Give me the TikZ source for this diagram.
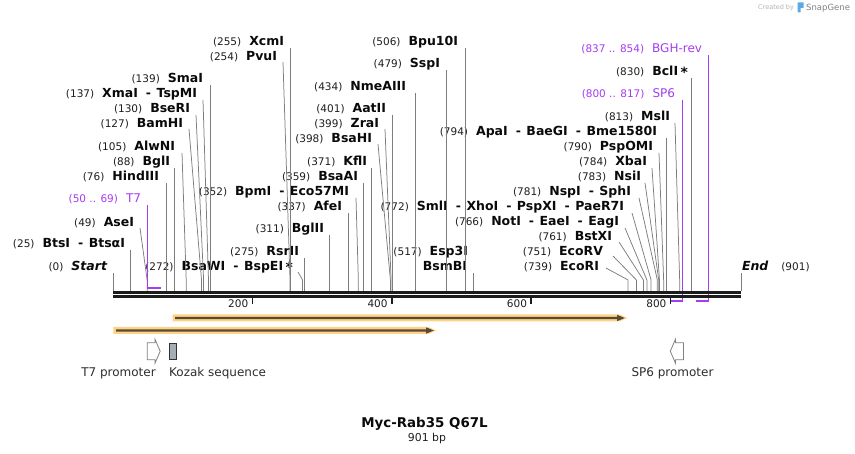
\documentclass[tikz,border=0pt]{standalone}
\usepackage{fontspec}
\setmainfont{DejaVu Sans}
\usetikzlibrary{calc}
\definecolor{enzc}{RGB}{125,125,125}
\definecolor{txt}{RGB}{10,10,10}
\definecolor{numc}{RGB}{30,30,30}
\definecolor{prim}{RGB}{165,60,240}
\definecolor{bb}{RGB}{28,28,28}
\definecolor{glow}{RGB}{253,212,135}
\definecolor{arr}{RGB}{88,74,54}
\definecolor{kozak}{RGB}{168,173,178}
\definecolor{ftxt}{RGB}{45,45,45}
\definecolor{logoblue}{RGB}{90,170,230}
\newcommand{\nf}[1]{{\fontsize{10.5}{12}\selectfont\color{numc}(#1)}}
\newcommand{\pnf}[1]{{\fontsize{10.5}{12}\selectfont(#1)}}
\newcommand{\bn}[1]{{\fontsize{12.5}{14}\selectfont\bfseries #1}}
\newcommand{\pn}[1]{{\fontsize{12}{14}\selectfont #1}}
\newcommand{\ds}{\hspace{8pt}-\hspace{5.5pt}}
\newcommand{\gp}{\hspace{8pt}}
\newcommand{\starmark}{\hspace{2.5pt}\raisebox{-1.8pt}{\fontsize{14}{14}\selectfont *}}
\newcommand{\vconn}[2]{\draw[enz] (#1) -- ($(#1 |- #2.base)+(0,2)$);}
\newcommand{\sconn}[3]{\draw[enz] (#1) -- ++(0,-11) -- ($(#2.base east)+(#3)$);}
\tikzset{
  lab/.style={inner sep=0pt, outer sep=0pt, anchor=base east, text=txt},
  plab/.style={lab, text=prim},
  enz/.style={draw=enzc, line width=0.75pt},
  pline/.style={draw=prim, line width=1.2pt},
  pbar/.style={draw=prim, line width=2.2pt},
  bbl/.style={draw=bb, line width=3pt},
  tickl/.style={draw=bb, line width=1.5pt},
  ticklab/.style={inner sep=0pt, anchor=base east, font=\fontsize{10.5}{12}\selectfont, text=numc},
  flab/.style={inner sep=0pt, text=ftxt, font=\fontsize{12}{14}\selectfont},
  promo/.style={draw=gray, fill=white, line width=0.8pt},
}
\begin{document}
\begin{tikzpicture}[x=1pt,y=-1pt]
\useasboundingbox (0,0) rectangle (855,454);
% watermark
\node[inner sep=0pt, anchor=base west, text=black!30, font=\fontsize{6.5}{8}\selectfont] (wm1) at (758,10) {Created by};
\fill[logoblue] (797.5,2.5) -- (803.5,2.5) -- (803.5,8) -- (800.5,8) -- (800.5,12.5) -- (797.5,12.5) -- cycle;
\node[inner sep=0pt, anchor=base west, text=black!50, font=\fontsize{8.5}{10}\selectfont] (wm2) at (806,11) {SnapGene};

% site coordinates on the backbone
\coordinate (s0) at (113,291);
\coordinate (s25) at (130.43,291);
\coordinate (s49) at (147.15,291);
\coordinate (s76) at (165.97,291);
\coordinate (s88) at (174.34,291);
\coordinate (s105) at (186.19,291);
\coordinate (s127) at (201.52,291);
\coordinate (s130) at (203.61,291);
\coordinate (s137) at (208.49,291);
\coordinate (s139) at (209.88,291);
\coordinate (s254) at (290.04,291);
\coordinate (s255) at (290.74,291);
\coordinate (s272) at (302.58,291);
\coordinate (s275) at (304.68,291);
\coordinate (s311) at (329.77,291);
\coordinate (s337) at (347.89,291);
\coordinate (s352) at (358.34,291);
\coordinate (s359) at (363.22,291);
\coordinate (s371) at (371.59,291);
\coordinate (s398) at (390.40,291);
\coordinate (s399) at (391.10,291);
\coordinate (s401) at (392.50,291);
\coordinate (s434) at (415.50,291);
\coordinate (s479) at (446.86,291);
\coordinate (s506) at (465.68,291);
\coordinate (s517) at (473.35,291);
\coordinate (s739) at (628.08,291);
\coordinate (s751) at (636.44,291);
\coordinate (s761) at (643.41,291);
\coordinate (s766) at (646.90,291);
\coordinate (s772) at (651.08,291);
\coordinate (s781) at (657.35,291);
\coordinate (s783) at (658.75,291);
\coordinate (s784) at (659.45,291);
\coordinate (s790) at (663.63,291);
\coordinate (s794) at (666.42,291);
\coordinate (s813) at (679.66,291);
\coordinate (s830) at (691.51,291);
\coordinate (s901) at (741,291);
\coordinate (t7a) at (147.85,288);
\coordinate (t7b) at (161.09,288);
\coordinate (sp6a) at (682.45,301);
\coordinate (sp6b) at (670.6,301);
\coordinate (bgha) at (708.24,301);
\coordinate (bghb) at (696.39,301);

% labels
\node[lab] (e255) at (284,46) {\nf{255}\gp\bn{XcmI}};
\node[lab] (e254) at (277,61) {\nf{254}\gp\bn{PvuI}};
\node[lab] (e139) at (203,83) {\nf{139}\gp\bn{SmaI}};
\node[lab] (e137) at (197,98) {\nf{137}\gp\bn{XmaI\ds TspMI}};
\node[lab] (e130) at (190,113) {\nf{130}\gp\bn{BseRI}};
\node[lab] (e127) at (183,128) {\nf{127}\gp\bn{BamHI}};
\node[lab] (e105) at (175,151) {\nf{105}\gp\bn{AlwNI}};
\node[lab] (e88) at (170,166) {\nf{88}\gp\bn{BglI}};
\node[lab] (e76) at (159,181) {\nf{76}\gp\bn{HindIII}};
\node[plab] (pT7) at (141,203) {\pnf{50 .. 69}\gp\pn{T7}};
\node[lab] (e49) at (134,227) {\nf{49}\gp\bn{AseI}};
\node[lab] (e25) at (125,248) {\nf{25}\gp\bn{BtsI\ds BtsαI}};
\node[lab] (e0) at (107,271) {\nf{0}\gp\bn{\itshape Start}};
\node[lab] (e272) at (293,271) {\nf{272}\gp\bn{BsaWI\ds BspEI\starmark}};
\node[lab] (e275) at (299,256) {\nf{275}\gp\bn{RsrII}};
\node[lab] (e311) at (324,233) {\nf{311}\gp\bn{BglII}};
\node[lab] (e337) at (342,211) {\nf{337}\gp\bn{AfeI}};
\node[lab] (e352) at (349,196) {\nf{352}\gp\bn{BpmI\ds Eco57MI}};
\node[lab] (e359) at (358,181) {\nf{359}\gp\bn{BsaAI}};
\node[lab] (e371) at (367,166) {\nf{371}\gp\bn{KflI}};
\node[lab] (e398) at (372,143) {\nf{398}\gp\bn{BsaHI}};
\node[lab] (e399) at (379,128) {\nf{399}\gp\bn{ZraI}};
\node[lab] (e401) at (386,113) {\nf{401}\gp\bn{AatII}};
\node[lab] (e434) at (406,91) {\nf{434}\gp\bn{NmeAIII}};
\node[lab] (e479) at (440,68) {\nf{479}\gp\bn{SspI}};
\node[lab] (e506) at (458,46) {\nf{506}\gp\bn{Bpu10I}};
\node[lab] (e517) at (468,256) {\nf{517}\gp\bn{Esp3I}};
\node[lab] (e517b) at (467,271) {\bn{BsmBI}};
\node[lab] (e772) at (624,211) {\nf{772}\gp\bn{SmlI\ds XhoI\ds PspXI\ds PaeR7I}};
\node[lab] (e766) at (619,226) {\nf{766}\gp\bn{NotI\ds EaeI\ds EagI}};
\node[lab] (e761) at (612,241) {\nf{761}\gp\bn{BstXI}};
\node[lab] (e751) at (603,256) {\nf{751}\gp\bn{EcoRV}};
\node[lab] (e739) at (599,271) {\nf{739}\gp\bn{EcoRI}};
\node[lab] (e781) at (631,196) {\nf{781}\gp\bn{NspI\ds SphI}};
\node[lab] (e783) at (641,181) {\nf{783}\gp\bn{NsiI}};
\node[lab] (e784) at (647,166) {\nf{784}\gp\bn{XbaI}};
\node[lab] (e790) at (653,151) {\nf{790}\gp\bn{PspOMI}};
\node[lab] (e794) at (657,136) {\nf{794}\gp\bn{ApaI\ds BaeGI\ds Bme1580I}};
\node[lab] (e813) at (670,121) {\nf{813}\gp\bn{MslI}};
\node[plab] (pSP6) at (675,98) {\pnf{800 .. 817}\gp\pn{SP6}};
\node[lab] (e830) at (688,76) {\nf{830}\gp\bn{BclI\starmark}};
\node[plab] (pBGH) at (702,53) {\pnf{837 .. 854}\gp\pn{BGH-rev}};
\node[lab, anchor=base west] (e901) at (742,271) {\bn{\itshape End}\hspace{13pt}\nf{901}};

% vertical connectors
\vconn{s255}{e255}
\vconn{s139}{e139}
\vconn{s88}{e88}
\vconn{s76}{e76}
\vconn{s25}{e25}
\vconn{s0}{e0}
\vconn{s275}{e275}
\vconn{s311}{e311}
\vconn{s337}{e337}
\vconn{s359}{e359}
\vconn{s371}{e371}
\vconn{s401}{e401}
\vconn{s434}{e434}
\vconn{s479}{e479}
\vconn{s506}{e506}
\vconn{s517}{e517b}
\vconn{s794}{e794}
\vconn{s830}{e830}
\vconn{s901}{e901}
% slanted connectors
\sconn{s254}{e254}{6,1}
\sconn{s137}{e137}{6,2}
\sconn{s130}{e130}{6,2}
\sconn{s127}{e127}{6,1}
\sconn{s105}{e105}{7,2}
\sconn{s49}{e49}{6,1}
\sconn{s272}{e272}{5,1}
\sconn{s352}{e352}{7,2}
\sconn{s398}{e398}{6,1}
\sconn{s399}{e399}{6,1}
\sconn{s772}{e772}{8,2}
\sconn{s766}{e766}{6,2}
\sconn{s761}{e761}{7,1}
\sconn{s751}{e751}{10,0}
\sconn{s739}{e739}{7,-3}
\sconn{s781}{e781}{8,2}
\sconn{s783}{e783}{4,2}
\sconn{s784}{e784}{5,2}
\sconn{s790}{e790}{6,2}
\sconn{s813}{e813}{5,2}
% primers
\draw[pline] ($(t7a |- pT7.base)+(0,2)$) -- (t7a);
\draw[pbar] ([xshift=-0.6pt]t7a) -- (t7b);
\draw[pline] ($(sp6a |- pSP6.base)+(0,2)$) -- (sp6a);
\draw[pbar] ([xshift=0.6pt]sp6a) -- (sp6b);
\draw[pline] ($(bgha |- pBGH.base)+(0,2)$) -- (bgha);
\draw[pbar] ([xshift=0.6pt]bgha) -- (bghb);

% backbone
\draw[bbl] (113,292.5) -- (741,292.5);
\draw[bbl] (113,296.5) -- (741,296.5);
% ticks
\draw[tickl] (252.4,298) -- (252.4,304.5);
\draw[tickl] (391.8,298) -- (391.8,304.5);
\draw[tickl] (531.2,298) -- (531.2,304.5);
\draw[tickl] (670.6,298) -- (670.6,304.5);
\node[ticklab] (k200) at (248.4,307.5) {200};
\node[ticklab] (k400) at (387.8,307.5) {400};
\node[ticklab] (k600) at (527.2,307.5) {600};
\node[ticklab] (k800) at (666.6,307.5) {800};

% feature arrows
\fill[glow] (172.5,314.5) -- (619,314.5) -- (627.5,318) -- (619,321.5) -- (172.5,321.5) -- cycle;
\fill[arr] (175,316.8) -- (617,316.8) -- (617,314.8) -- (624.8,318) -- (617,321.2) -- (617,319.2) -- (175,319.2) -- cycle;
\fill[glow] (113.3,327) -- (428,327) -- (436.5,330.5) -- (428,334) -- (113.3,334) -- cycle;
\fill[arr] (116,329.3) -- (426,329.3) -- (426,327.3) -- (433.8,330.5) -- (426,333.7) -- (426,331.7) -- (116,331.7) -- cycle;

% promoters and Kozak
\draw[promo] (147.3,342.7) -- (155,342.7) -- (155,339.2) -- (160.2,351.2) -- (155,363.2) -- (155,359.7) -- (147.3,359.7) -- cycle;
\draw[draw=black!80, fill=kozak, line width=0.8pt] (169,343) rectangle (176.3,359.7);
\draw[promo] (683.5,342.7) -- (675.5,342.7) -- (675.5,339.2) -- (670.3,351.2) -- (675.5,363.2) -- (675.5,359.7) -- (683.5,359.7) -- cycle;
\node[flab, anchor=base] (fT7) at (118.5,377) {T7 promoter};
\node[flab, anchor=base west] (fKoz) at (169,377) {Kozak sequence};
\node[flab, anchor=base] (fSP6) at (672.5,377) {SP6 promoter};

% title
\node[inner sep=0pt, anchor=base, text=txt, font=\fontsize{13.4}{15}\selectfont\bfseries] (title) at (424.5,428) {Myc-Rab35 Q67L};
\node[inner sep=0pt, anchor=base, text=numc, font=\fontsize{10.9}{12}\selectfont] (bp) at (427,442) {901 bp};
\end{tikzpicture}
\end{document}
